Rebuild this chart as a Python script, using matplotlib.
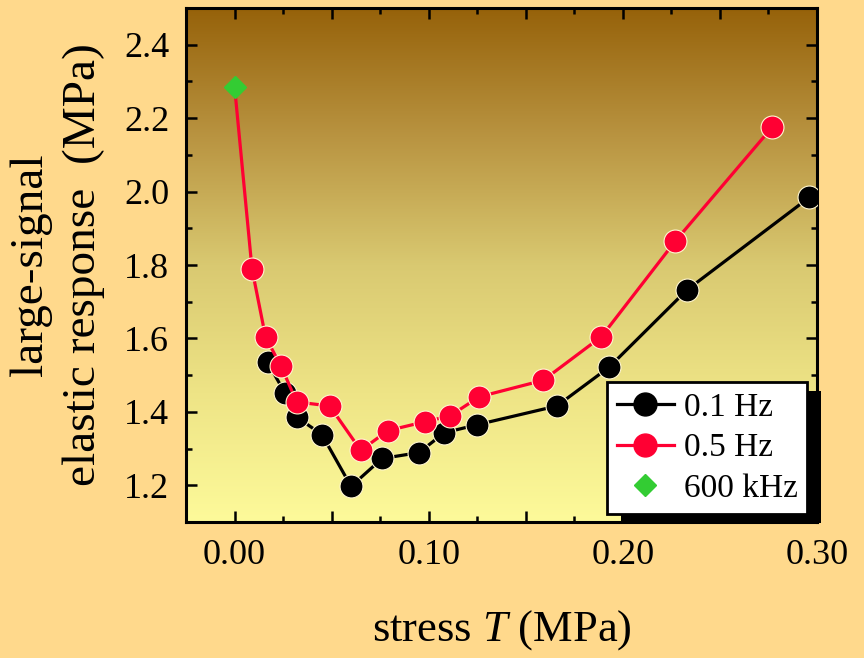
import numpy as np
import matplotlib
matplotlib.use("Agg")
import matplotlib.pyplot as plt
from matplotlib.colors import LinearSegmentedColormap
from matplotlib.lines import Line2D
from matplotlib.patches import Rectangle
from matplotlib.transforms import IdentityTransform

plt.rcParams['font.family'] = ['Liberation Serif', 'DejaVu Serif']
plt.rcParams['mathtext.fontset'] = 'custom'
plt.rcParams['mathtext.rm'] = 'Liberation Serif'
plt.rcParams['mathtext.it'] = 'Liberation Serif:italic'

# data
stress_01 = [0.017, 0.026, 0.032, 0.045, 0.060, 0.076, 0.095, 0.108, 0.125, 0.166, 0.193, 0.233, 0.296]
resp_01 = [1.535, 1.451, 1.386, 1.338, 1.197, 1.273, 1.289, 1.343, 1.365, 1.416, 1.522, 1.732, 1.984]

stress_05 = [0.000, 0.009, 0.016, 0.024, 0.032, 0.049, 0.065, 0.079, 0.098, 0.111, 0.126, 0.159, 0.189, 0.227, 0.277]
resp_05 = [2.286, 1.789, 1.603, 1.524, 1.427, 1.416, 1.295, 1.349, 1.373, 1.389, 1.441, 1.486, 1.605, 1.865, 2.176]

stress_600k = [0.000]
resp_600k = [2.286]

x_ticks = [0.00, 0.05, 0.10, 0.15, 0.20, 0.25, 0.30]
x_ticklabels = ['0.00', '', '0.10', '', '0.20', '', '0.30']
y_ticks = [1.2, 1.4, 1.6, 1.8, 2.0, 2.2, 2.4]
legend_labels = ['0.1 Hz', '0.5 Hz', '600 kHz']

fig = plt.figure(figsize=(8.64, 6.58), dpi=100)
fig.patch.set_facecolor('#FFD98C')
ax = fig.add_axes([0.2153, 0.2067, 0.7303, 0.7811])

# gradient background
grad_cmap = LinearSegmentedColormap.from_list(
    'bg', [(0.0, '#FDFA9A'), (0.25, '#EEE486'), (0.5, '#D9C971'),
           (0.75, '#B99441'), (1.0, '#96620A')])
grad = np.linspace(0, 1, 256).reshape(-1, 1)
ax.imshow(grad, cmap=grad_cmap, origin='lower', aspect='auto',
          extent=[0, 1, 0, 1], transform=ax.transAxes, zorder=0)

ms = 16.5
ax.plot(stress_01, resp_01, color='black', lw=2.3, marker='o', ms=ms,
        mec='#fff6d0', mew=0.8, zorder=3)
ax.plot(stress_05, resp_05, color='#FF0033', lw=2.3, marker='o', ms=ms,
        mec='#fff6d0', mew=0.8, markevery=list(range(1, len(stress_05))), zorder=4)
ax.plot(stress_600k, resp_600k, ls='none', marker='D', ms=11.5, color='#33CC33',
        mec='#33CC33', zorder=5)

ax.set_xlim(-0.025, 0.3)
ax.set_ylim(1.1, 2.5)
ax.set_xticks(x_ticks)
ax.set_xticklabels(x_ticklabels)
ax.set_xticks(np.arange(-0.025, 0.31, 0.05), minor=True)
ax.set_yticks(y_ticks)
ax.set_yticklabels([f'{v:.1f}' for v in y_ticks])
ax.set_yticks(np.arange(1.1, 2.5, 0.2), minor=True)

ax.tick_params(which='both', direction='in', top=True, right=True,
               labelsize=26, width=1.8, pad=12)
ax.tick_params(which='major', length=8)
ax.tick_params(which='minor', length=4)
for sp in ax.spines.values():
    sp.set_linewidth(2.2)

ax.set_xlabel('stress $T$ (MPa)', fontsize=32, labelpad=26)
ax.set_ylabel('large-signal\nelastic response  (MPa)', fontsize=34,
              labelpad=14, multialignment='center', linespacing=1.3)

handles = [
    Line2D([], [], color='black', lw=2.3, marker='o', ms=ms, mec='black'),
    Line2D([], [], color='#FF0033', lw=2.3, marker='o', ms=ms, mec='#FF0033'),
    Line2D([], [], ls='none', marker='D', ms=11.5, color='#33CC33'),
]
leg = ax.legend(handles, legend_labels, loc='lower left',
                bbox_to_anchor=(0.667, 0.0156), borderaxespad=0, fontsize=24,
                fancybox=False, framealpha=1, edgecolor='black',
                handlelength=1.7, handletextpad=0.3, labelspacing=0.3,
                borderpad=0.3)
leg.get_frame().set_linewidth(2)
leg.set_zorder(10)

# black drop shadow behind the legend box
fig.canvas.draw()
bb = leg.get_window_extent()
shadow = Rectangle((bb.x0 + 14, bb.y0 - 9), bb.width, bb.height,
                   transform=IdentityTransform(), facecolor='black',
                   edgecolor='none', zorder=9, clip_on=False)
ax.add_patch(shadow)

fig.savefig('out.png', dpi=100, facecolor=fig.get_facecolor())
